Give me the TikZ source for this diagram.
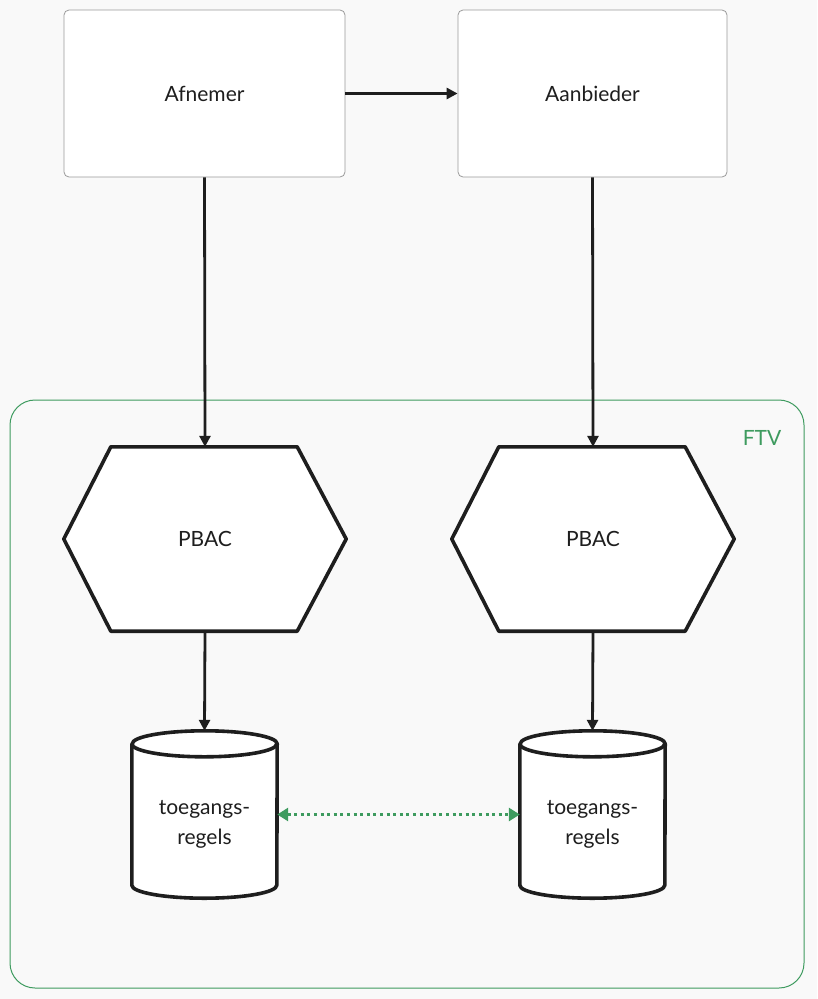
\documentclass[tikz,border=0pt]{standalone}
\usepackage{fontspec}
\setmainfont{Lato}
\usetikzlibrary{arrows.meta}
\definecolor{bg}{HTML}{F9F9F9}
\definecolor{ftv}{HTML}{3E9B5F}
\definecolor{ink}{HTML}{1E1E1E}
\definecolor{boxline}{HTML}{9A9A9A}
\begin{document}
\begin{tikzpicture}[x=1pt,y=-1pt,
  every node/.style={font=\fontsize{21}{30}\selectfont, text=ink},
  actor/.style={draw=boxline, line width=0.8pt, fill=white, rounded corners=5pt, minimum width=#1, minimum height=167pt, inner sep=0pt},
  conn/.style={draw=ink, line width=2.8pt, -{Triangle[length=11pt,width=11pt]}},
  thick shape/.style={draw=ink, line width=3.6pt, fill=white, line join=round},
  dots/.style={draw=ftv, line width=3pt, dash pattern=on 3pt off 3.6pt, {Triangle[length=11pt,width=13pt]}-{Triangle[length=11pt,width=13pt]}}
]
\fill[bg] (0,0) rectangle (817,999);
\useasboundingbox (0,0) rectangle (817,999);

% container
\draw[ftv, line width=1pt, rounded corners=25pt] (10,400) rectangle (804,988);
\node[text=ftv, anchor=center] (ftvlabel) at (762,438) {FTV};

% actors
\node[actor=281pt] (afn) at (204.5,93.5) {Afnemer};
\node[actor=269pt] (aan) at (592.5,93.5) {Aanbieder};

% hexagons
\node[minimum width=282pt, minimum height=184pt, inner sep=0pt] (p1) at (205,539) {};
\node[minimum width=282pt, minimum height=184pt, inner sep=0pt] (p2) at (593,539) {};
\foreach \h in {p1,p2}{
  \path[thick shape] ([xshift=47pt]\h.north west) -- ([xshift=-49pt]\h.north east) -- (\h.east) -- ([xshift=-49pt]\h.south east) -- ([xshift=47pt]\h.south west) -- (\h.west) -- cycle;
}
\node at (p1.center) {PBAC};
\node at (p2.center) {PBAC};

% cylinders
\node[minimum width=145pt, minimum height=167pt, inner sep=0pt] (c1) at (204.5,814.5) {};
\node[minimum width=145pt, minimum height=167pt, inner sep=0pt] (c2) at (592.5,814.5) {};
\foreach \c in {c1,c2}{
  \path[thick shape] ([yshift=-13pt]\c.north west) -- ([yshift=13pt]\c.south west)
     arc[start angle=180, end angle=0, x radius=72.5, y radius=13]
     -- ([yshift=-13pt]\c.north east) arc[start angle=0, end angle=-180, x radius=72.5, y radius=13] -- cycle;
  \draw[ink, line width=3.6pt] ([yshift=-13pt]\c.north west) arc[start angle=180, end angle=0, x radius=72.5, y radius=13];
}
\node[align=center] at ([yshift=-10pt]c1.center) {toegangs-\\regels};
\node[align=center] at ([yshift=-10pt]c2.center) {toegangs-\\regels};

% connectors
\draw[conn] (afn.east) -- (aan.west);
\draw[conn] (afn.south) -- (p1.north);
\draw[conn] (aan.south) -- (p2.north);
\draw[conn] (p1.south) -- (c1.north);
\draw[conn] (p2.south) -- (c2.north);
\draw[dots] (c1.east) -- (c2.west);
\end{tikzpicture}
\end{document}
